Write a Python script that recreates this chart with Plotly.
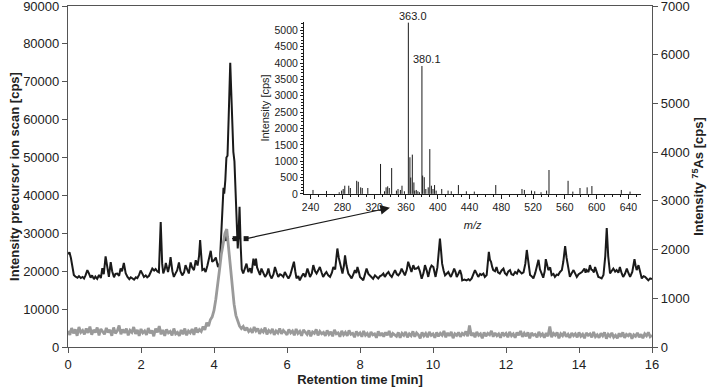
import plotly.graph_objects as go

# ---------------- data ----------------
# Precursor ion scan (black, left axis)
rt_precursor = [
    0.00, 0.04, 0.08, 0.12, 0.16, 0.20, 0.26, 0.30, 0.35, 0.40, 0.44, 0.48, 0.53, 0.57, 0.62, 0.66, 0.71, 0.75,
    0.80, 0.85, 0.90, 0.94, 0.98, 1.03, 1.08, 1.12, 1.17, 1.21, 1.26, 1.30, 1.35, 1.40, 1.44, 1.48, 1.53, 1.58,
    1.63, 1.68, 1.72, 1.77, 1.81, 1.86, 1.90, 1.95, 1.99, 2.04, 2.08, 2.13, 2.17, 2.22, 2.27, 2.31, 2.36, 2.40,
    2.45, 2.49, 2.54, 2.58, 2.61, 2.65, 2.68, 2.72, 2.74, 2.78, 2.81, 2.86, 2.90, 2.95, 2.99, 3.04, 3.08, 3.13,
    3.18, 3.22, 3.27, 3.31, 3.36, 3.40, 3.45, 3.50, 3.55, 3.59, 3.62, 3.65, 3.68, 3.73, 3.77, 3.82, 3.87, 3.91,
    3.95, 4.00, 4.05, 4.08, 4.11, 4.16, 4.19, 4.23, 4.26, 4.28, 4.31, 4.34, 4.37, 4.40, 4.43, 4.445, 4.47, 4.50,
    4.53, 4.56, 4.59, 4.62, 4.65, 4.67, 4.70, 4.73, 4.76, 4.80, 4.85, 4.89, 4.94, 4.99, 5.03, 5.08, 5.12, 5.15,
    5.18, 5.21, 5.26, 5.30, 5.35, 5.40, 5.45, 5.49, 5.53, 5.58, 5.63, 5.67, 5.72, 5.76, 5.81, 5.85, 5.90, 5.94,
    5.99, 6.04, 6.09, 6.13, 6.17, 6.19, 6.23, 6.26, 6.31, 6.35, 6.40, 6.45, 6.50, 6.56, 6.60, 6.63, 6.68, 6.72,
    6.77, 6.81, 6.86, 6.90, 6.95, 6.99, 7.04, 7.08, 7.13, 7.18, 7.23, 7.27, 7.32, 7.38, 7.42, 7.45, 7.49, 7.52,
    7.56, 7.59, 7.63, 7.68, 7.73, 7.77, 7.82, 7.86, 7.90, 7.93, 7.97, 8.00, 8.05, 8.09, 8.14, 8.18, 8.23, 8.27,
    8.32, 8.36, 8.41, 8.46, 8.50, 8.55, 8.59, 8.64, 8.68, 8.73, 8.78, 8.82, 8.87, 8.92, 8.96, 9.01, 9.05, 9.10,
    9.14, 9.19, 9.23, 9.28, 9.32, 9.37, 9.41, 9.46, 9.50, 9.55, 9.60, 9.64, 9.69, 9.74, 9.78, 9.83, 9.87, 9.92,
    9.96, 10.01, 10.05, 10.07, 10.12, 10.16, 10.19, 10.22, 10.25, 10.29, 10.33, 10.38, 10.42, 10.46, 10.49,
    10.54, 10.58, 10.62, 10.65, 10.70, 10.74, 10.78, 10.80, 10.86, 10.92, 10.97, 11.01, 11.06, 11.10, 11.15,
    11.19, 11.24, 11.29, 11.33, 11.38, 11.42, 11.47, 11.50, 11.53, 11.56, 11.59, 11.62, 11.65, 11.70, 11.74,
    11.78, 11.83, 11.88, 11.93, 11.97, 12.02, 12.06, 12.11, 12.15, 12.20, 12.25, 12.30, 12.34, 12.39, 12.43,
    12.48, 12.53, 12.57, 12.61, 12.66, 12.70, 12.75, 12.80, 12.85, 12.89, 12.93, 12.98, 13.02, 13.06, 13.09,
    13.13, 13.16, 13.21, 13.25, 13.30, 13.34, 13.39, 13.43, 13.48, 13.53, 13.57, 13.62, 13.66, 13.69, 13.72,
    13.75, 13.80, 13.85, 13.90, 13.94, 13.99, 14.03, 14.08, 14.15, 14.18, 14.21, 14.26, 14.30, 14.34, 14.37,
    14.41, 14.44, 14.49, 14.53, 14.58, 14.62, 14.67, 14.72, 14.76, 14.80, 14.85, 14.90, 14.94, 14.99, 15.03,
    15.08, 15.12, 15.17, 15.21, 15.26, 15.31, 15.35, 15.40, 15.46, 15.52, 15.55, 15.58, 15.63, 15.67, 15.72,
    15.77, 15.81, 15.86, 15.90, 15.95, 16.00,
]
int_precursor = [
    24500, 25000, 23500, 20500, 19000, 18600, 18300, 18700, 18200, 18500, 18100, 18900, 20300, 19500, 18300, 18900, 17900, 18600,
    18000, 19000, 18200, 20800, 19200, 23900, 20500, 18500, 22400, 20000, 18400, 19300, 19400, 18800, 20700, 20000, 22200, 19500,
    18500, 17900, 18400, 18100, 17800, 18400, 18200, 19100, 20200, 19300, 18500, 18900, 18400, 18800, 20000, 20700, 20200, 20600,
    19900, 19700, 33000, 22000, 19400, 20500, 22200, 20300, 19800, 21500, 23700, 20000, 18500, 19500, 20200, 22300, 20000, 18900,
    19700, 21600, 20200, 19400, 22300, 21000, 20300, 22900, 21500, 24000, 28200, 24000, 20300, 20600, 19800, 21500, 23500, 25400,
    22500, 22900, 23600, 22000, 21100, 22100, 29000, 36000, 42000, 40500, 44000, 50000, 50500, 60000, 72000, 75000, 68000, 58000,
    51500, 49000, 41000, 34000, 26000, 29000, 37000, 27000, 20500, 19400, 21000, 22000, 19800, 20800, 19500, 23300, 21500, 23300,
    21000, 20300, 19000, 20700, 19500, 18500, 19300, 20700, 19000, 18100, 19200, 21100, 19600, 18500, 19200, 19000, 18500, 19800,
    18900, 18100, 19000, 20300, 21500, 22500, 19800, 18100, 18700, 17600, 18600, 19400, 18500, 20700, 19500, 18500, 19400, 21600,
    20000, 19400, 20300, 21100, 19600, 18500, 19300, 19800, 18900, 18500, 19600, 21100, 20500, 26000, 23500, 22000, 20500, 19400,
    21500, 24200, 21500, 19400, 18700, 18100, 19200, 20300, 19500, 21100, 19800, 18500, 18000, 17600, 19300, 20700, 19300, 18900,
    18200, 18000, 18900, 18400, 18100, 18700, 18900, 19400, 18500, 19300, 19800, 19000, 18500, 19500, 20300, 19200, 18900, 19600,
    20700, 19700, 18900, 20300, 22500, 21000, 19800, 21600, 20600, 20700, 21100, 20000, 18000, 19500, 21600, 20100, 18500, 20700,
    21500, 21100, 19500, 18500, 21000, 26000, 28600, 25500, 22000, 20200, 18900, 19400, 19800, 19000, 18500,
    19600, 20700, 19700, 18500, 19400, 20300, 19000, 17600, 17800, 17600, 17900, 17600, 18100, 19000, 20300,
    19500, 18500, 19300, 19000, 19400, 18500, 19000, 22000, 25100, 23000, 22500, 21200, 20300, 20000, 21100,
    19700, 19400, 20200, 20700, 19500, 19000, 19900, 20300, 19200, 19000, 19800, 19400, 20300, 19800, 19400,
    19700, 22000, 25600, 22000, 19000, 18700, 18100, 19500, 21500, 23000, 20500, 19000, 18300, 20000, 23200,
    21500, 20300, 21000, 19000, 19300, 18500, 19100, 19000, 19800, 20300, 22500, 26600, 23500, 21600, 20000,
    18500, 19500, 20300, 19300, 18500, 19200, 19400, 19800, 20700, 19600, 20300, 19800, 21600, 20400, 20300,
    19700, 21100, 19600, 18500, 18300, 18100, 19000, 24000, 31400, 24000, 19400, 20100, 20700, 19900, 20300,
    19600, 21100, 19400, 18500, 19300, 20700, 19600, 18500, 19800, 23200, 21500, 20300, 21600, 19800, 18100,
    18700, 18500, 18000, 17600, 18100, 17900,
]

# 75As trace (grey, right axis), one reading every 0.05 min from 0 to 16 min
as_step_min = 0.05
int_as75 = [
    330, 250, 390, 280, 360, 230, 410, 300, 340, 260, 380, 290, 420, 250, 350, 300, 400, 240, 370, 310,
    260, 390, 300, 350, 230, 400, 280, 330, 440, 260, 360, 290, 380, 240, 340, 300, 410, 270, 350, 230,
    370, 290, 330, 250, 390, 280, 340, 220, 380, 300, 430, 260, 350, 230, 360, 290, 320, 240, 380, 270,
    300, 230, 350, 260, 380, 240, 330, 290, 370, 250, 400, 300, 360, 320, 420, 350, 500, 430, 560, 620,
    750, 980, 1250, 1580, 1900, 2150, 2330, 2420, 2000, 1550, 1150, 880, 650, 520, 430, 380, 420, 340, 400, 320,
    360, 290, 410, 330, 380, 270, 350, 310, 400, 260, 340, 300, 370, 250, 330, 290, 380, 270, 340, 300,
    250, 360, 290, 330, 240, 370, 280, 320, 230, 350, 300, 260, 340, 220, 310, 280, 360, 240, 320, 270,
    300, 230, 340, 260, 310, 220, 350, 270, 290, 210, 330, 250, 300, 230, 340, 260, 280, 200, 320, 250,
    290, 210, 330, 240, 280, 200, 310, 250, 270, 190, 320, 230, 290, 210, 300, 240, 330, 200, 280, 250,
    220, 300, 190, 280, 240, 310, 200, 270, 230, 320, 210, 290, 250, 180, 300, 230, 280, 200, 310, 240,
    270, 190, 300, 220, 280, 240, 330, 200, 290, 230, 310, 180, 270, 240, 300, 210, 280, 250, 320, 220,
    440, 230, 290, 200, 310, 240, 270, 180, 300, 220, 280, 250, 330, 210, 290, 230, 270, 190, 300, 240,
    280, 200, 310, 230, 270, 190, 300, 240, 330, 210, 280, 220, 300, 180, 290, 240, 260, 200, 310, 230,
    270, 190, 290, 220, 420, 200, 280, 240, 300, 180, 270, 230, 310, 210, 260, 190, 290, 230, 270, 200,
    300, 220, 260, 180, 290, 240, 270, 200, 310, 210, 250, 190, 280, 230, 300, 170, 260, 220, 290, 200,
    240, 180, 280, 210, 300, 190, 260, 230, 280, 170, 250, 220, 290, 200, 260, 180, 270, 230, 300, 210,
    240,
]
rt_as75 = [round(i * as_step_min, 2) for i in range(len(int_as75))]

# integration markers (precursor scan)
rt_marker = [4.33, 4.58, 4.88]
int_marker = [28600, 28600, 28600]

# Inset: product mass spectrum
mz = [243, 260, 276, 279, 281, 283, 288, 290, 298, 300, 303, 305, 312, 328, 333, 335, 337, 339, 342,
      348, 350, 353, 355, 358, 363.0, 365, 366, 368, 370, 371, 373, 375, 377, 380.1, 381, 383, 385, 388,
      390, 392, 394, 396, 398, 405, 413, 417, 426, 436, 446, 473, 506, 509, 518, 522, 530, 537, 540,
      564, 570, 579, 588, 594, 631, 642]
ms_int = [120, 90, 50, 100, 150, 250, 250, 180, 400, 370, 200, 180, 180, 915, 80, 200, 230, 180, 790,
          100, 150, 120, 250, 80, 5235, 1120, 500, 1200, 350, 100, 120, 80, 50, 3910, 560, 510, 150, 200,
          1370, 250, 150, 270, 100, 150, 100, 80, 270, 80, 70, 270, 150, 120, 100, 80, 50, 100, 730,
          400, 70, 180, 200, 240, 120, 70]
peak_labels = ["363.0", "380.1"]
peak_mz = [363.0, 380.1]
peak_int = [5235, 3910]

# ---------------- figure ----------------
FONT = "Liberation Sans, Arial, sans-serif"
fig = go.Figure()

fig.add_trace(go.Scatter(x=rt_as75, y=int_as75, mode="lines", yaxis="y2",
                         line=dict(color="#9a9a9a", width=2.8), showlegend=False))
fig.add_trace(go.Scatter(x=rt_precursor, y=int_precursor, mode="lines",
                         line=dict(color="#1a1a1a", width=2), showlegend=False))
fig.add_trace(go.Scatter(x=rt_marker, y=int_marker, mode="lines+markers",
                         line=dict(color="#1a1a1a", width=1.2, dash="dot"),
                         marker=dict(symbol="square", size=5, color="#1a1a1a"), showlegend=False))

# stick spectrum
xs, ys = [], []
for m, i in zip(mz, ms_int):
    xs += [m, m, None]
    ys += [0, i, None]
fig.add_trace(go.Scatter(x=xs, y=ys, mode="lines", xaxis="x3", yaxis="y3",
                         line=dict(color="#1a1a1a", width=1), showlegend=False))

for lab, m, i in zip(peak_labels, peak_mz, peak_int):
    fig.add_annotation(x=m, y=i, xref="x3", yref="y3", text=lab, showarrow=False,
                       xanchor="center", yanchor="bottom", xshift=5, yshift=-1,
                       font=dict(family=FONT, size=11, color="#1a1a1a"))

# arrow from chromatogram peak to inset
fig.add_annotation(x=8.82, y=36760, ax=4.88, ay=28600, xref="x", yref="y", axref="x", ayref="y",
                   text="", showarrow=True, arrowhead=2, arrowsize=1.6, arrowwidth=1.2,
                   arrowcolor="#1a1a1a", standoff=0, startstandoff=0)

axis_line = "#555555"
fig.update_layout(
    width=713, height=389,
    margin=dict(l=68, r=61, t=6, b=42, autoexpand=False),
    paper_bgcolor="white", plot_bgcolor="white",
    font=dict(family=FONT, size=13, color="#222222"),
    xaxis=dict(range=[0, 16], dtick=2, tick0=0, showgrid=False, zeroline=False, automargin=False,
               showline=True, linecolor=axis_line, linewidth=1.2, mirror=True,
               ticks="outside", ticklen=5, tickcolor=axis_line, ticklabeloverflow="allow",
               title=dict(text="<b>Retention time [min]</b>", font=dict(size=13), standoff=4)),
    yaxis=dict(range=[0, 90000], dtick=10000, tickformat="d", showgrid=False, zeroline=False,
               automargin=False, showline=True, linecolor=axis_line, linewidth=1.2,
               ticks="outside", ticklen=5, tickcolor=axis_line, ticklabeloverflow="allow",
               title=dict(text="<b>Intensity precursor ion scan [cps]</b>", font=dict(size=13), standoff=0)),
    yaxis2=dict(range=[0, 7000], dtick=1000, tickformat="d", overlaying="y", side="right", showgrid=False,
                zeroline=False, automargin=False, showline=True, linecolor=axis_line, linewidth=1.2,
                ticks="outside", ticklen=5, tickcolor=axis_line, ticklabeloverflow="allow",
                title=dict(text="<b>Intensity <sup>75</sup>As [cps]</b>", font=dict(size=13), standoff=4)),
    xaxis3=dict(domain=[0.404, 0.982], anchor="y3", range=[231.6, 656.4], dtick=40, tick0=240,
                showgrid=False, zeroline=False, showline=True, linecolor="#1a1a1a", linewidth=1,
                ticks="outside", ticklen=4, tickcolor="#1a1a1a", tickfont=dict(size=10.5),
                minor=dict(dtick=10, ticks="outside", ticklen=2, tickcolor="#1a1a1a"),
                title=dict(text="<i>m/z</i>", font=dict(size=11), standoff=8)),
    yaxis3=dict(domain=[0.449, 0.953], anchor="x3", range=[0, 5254], dtick=500, tickformat="d",
                showgrid=False, zeroline=False, showline=True, linecolor="#1a1a1a", linewidth=1,
                ticks="outside", ticklen=3, tickcolor="#1a1a1a", tickfont=dict(size=10.5),
                minor=dict(dtick=100, ticks="outside", ticklen=2, tickcolor="#1a1a1a"),
                title=dict(text="Intensity [cps]", font=dict(size=11), standoff=2)),
)

fig.write_html("out.html", config={"displayModeBar": False},
               post_script="document.body.style.margin='0';")
